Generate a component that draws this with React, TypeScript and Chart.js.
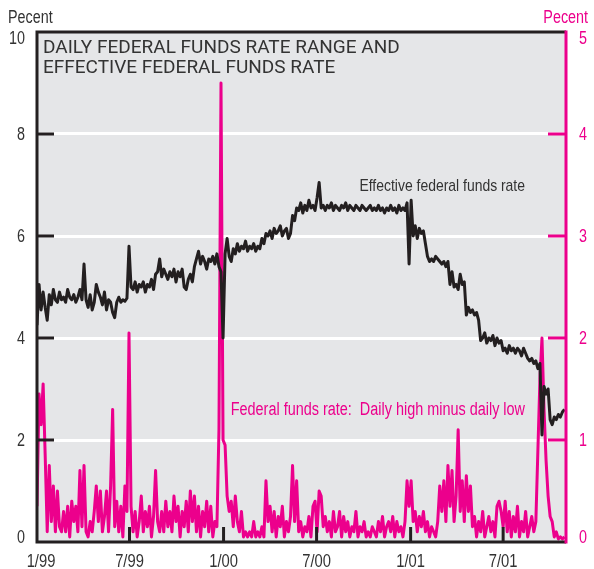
import React, { useEffect, useRef } from 'react';
import Chart from 'chart.js/auto';

// ---- x axis (days since 1 Jan 1999) ----
const STEP_DAYS = 4;
const X_MAX_DAYS = 1035;
const tickDays = [0, 181, 365, 547, 731, 912];
const tickLabels = ['1/99', '7/99', '1/00', '7/00', '1/01', '7/01'];
const leftTicks = [0, 2, 4, 6, 8, 10];
const rightTicks = [0, 1, 2, 3, 4, 5];

// ---- Effective federal funds rate (left axis, percent), every 4 days ----
const eff1999H1 = [
  4.25, 5.05, 4.55, 4.9, 4.6, 4.35, 4.85, 4.65, 4.95, 4.75,
  4.7, 4.9, 4.75, 4.8, 4.7, 4.95, 4.8, 4.75, 4.85, 4.7,
  4.8, 4.95, 4.75, 5.45, 4.75, 4.6, 4.85, 4.55, 4.7, 5.05,
  4.9, 4.8, 4.65, 4.9, 4.55, 4.75, 4.7, 4.5, 4.4, 4.7,
  4.8, 4.7, 4.75, 4.72, 4.78, 5.8,
];
const eff1999H2 = [
  5.0, 4.95, 5.1, 4.9, 5.05, 5.0, 5.1, 4.9, 5.05, 5.0,
  5.15, 4.95, 5.25, 5.3, 5.55, 5.2, 5.35, 5.25, 5.15, 5.3,
  5.2, 5.35, 5.1, 5.3, 5.2, 5.35, 5.0, 4.95, 5.15, 5.25,
  5.1, 5.4, 5.55, 5.7, 5.45, 5.6, 5.5, 5.35, 5.55, 5.5,
  5.6, 5.45, 5.65, 5.4, 5.3, 4.0,
];
const eff2000H1 = [
  5.65, 5.95, 5.6, 5.5, 5.75, 5.65, 5.85, 5.7, 5.8, 5.75,
  5.9, 5.7, 5.8, 5.75, 5.85, 5.7, 5.8, 5.75, 5.95, 5.85,
  6.05, 6.0, 6.1, 5.95, 6.15, 6.05, 6.1, 6.2, 6.0, 6.1,
  6.15, 5.95, 6.05, 6.4, 6.3, 6.55, 6.5, 6.65, 6.45, 6.6,
  6.5, 6.7, 6.55, 6.6, 6.5,
];
const eff2000H2 = [
  6.75, 7.05, 6.55, 6.6, 6.5, 6.6, 6.55, 6.65, 6.5, 6.6,
  6.55, 6.5, 6.6, 6.55, 6.65, 6.5, 6.6, 6.55, 6.5, 6.6,
  6.55, 6.5, 6.6, 6.55, 6.5, 6.55, 6.6, 6.5, 6.55, 6.5,
  6.6, 6.5, 6.55, 6.45, 6.55, 6.5, 6.6, 6.5, 6.55, 6.45,
  6.6, 6.5, 6.55, 6.5, 6.65, 5.45,
];
const eff2001H1 = [
  6.7, 6.0, 6.2, 5.95, 6.15, 6.05, 6.1, 5.85, 5.6, 5.5,
  5.55, 5.5, 5.6, 5.55, 5.5, 5.45, 5.5, 5.4, 5.5, 5.05,
  5.3, 5.0, 5.05, 4.95, 5.25, 5.05, 5.1, 4.45, 4.6, 4.5,
  4.55, 4.45, 4.5, 4.35, 3.95, 4.0, 4.1, 3.9, 4.0, 3.95,
  4.05, 3.85, 4.0, 3.9, 3.95,
];
const eff2001H2 = [
  3.75, 3.8, 3.7, 3.85, 3.75, 3.8, 3.7, 3.8, 3.75, 3.65,
  3.8, 3.7, 3.6, 3.55, 3.6, 3.5, 3.55, 3.4, 3.5, 2.1,
  3.05, 2.9, 3.0, 2.4, 2.3, 2.45, 2.4, 2.5, 2.45, 2.55,
  2.6,
];

// ---- Daily high minus daily low (right axis, percent) ----
const rng1999H1 = [
  0.35, 1.45, 1.15, 1.55, 0.85, 0.1, 0.75, 0.2, 0.55, 0.1,
  0.5, 0.15, 0.1, 0.3, 0.1, 0.35, 0.05, 0.4, 0.2, 0.35,
  0.1, 0.7, 0.15, 0.75, 0.1, 0.05, 0.2, 0.1, 0.3, 0.55,
  0.2, 0.5, 0.1, 0.25, 0.5, 0.1, 0.55, 1.3, 0.15, 0.4,
  0.1, 0.35, 0.05, 0.55, 0.3, 2.05,
];
const rng1999H2 = [
  0.35, 0.1, 0.3, 0.05, 0.2, 0.45, 0.1, 0.3, 0.15, 0.35,
  0.05, 0.25, 0.7, 0.2, 0.1, 0.3, 0.1, 0.4, 0.15, 0.3,
  0.1, 0.45, 0.2, 0.35, 0.05, 0.3, 0.15, 0.4, 0.1, 0.5,
  0.2, 0.45, 0.1, 0.35, 0.05, 0.3, 0.15, 0.4, 0.1, 0.35,
  0.05, 0.2, 0.15, 1.1, 4.5, 1.0,
];
const rng2000H1 = [
  0.95, 0.45, 0.3, 0.4, 0.15, 0.45, 0.2, 0.1, 0.3, 0.05,
  0.1, 0.05, 0.1, 0.05, 0.2, 0.05, 0.1, 0.05, 0.15, 0.05,
  0.6, 0.2, 0.35, 0.1, 0.3, 0.05, 0.25, 0.15, 0.35, 0.05,
  0.2, 0.1, 0.25, 0.75, 0.2, 0.6, 0.1, 0.2, 0.05, 0.15,
  0.1, 0.25, 0.05, 0.35, 0.4,
];
const rng2000H2 = [
  0.1, 0.5, 0.45, 0.15, 0.25, 0.1, 0.2, 0.05, 0.3, 0.1,
  0.15, 0.3, 0.05, 0.25, 0.1, 0.2, 0.05, 0.15, 0.1, 0.3,
  0.05, 0.15, 0.1, 0.2, 0.05, 0.1, 0.05, 0.15, 0.1, 0.05,
  0.2, 0.1, 0.25, 0.05, 0.15, 0.2, 0.1, 0.25, 0.05, 0.2,
  0.1, 0.15, 0.05, 0.2, 0.6, 0.35,
];
const rng2001H1 = [
  0.6, 0.2, 0.3, 0.1, 0.25, 0.15, 0.3, 0.1, 0.2, 0.05,
  0.15, 0.1, 0.05, 0.2, 0.55, 0.3, 0.6, 0.2, 0.75, 0.35,
  0.7, 0.2, 0.45, 1.1, 0.3, 0.6, 0.2, 0.65, 0.3, 0.55,
  0.15, 0.25, 0.05, 0.2, 0.1, 0.3, 0.05, 0.15, 0.25, 0.1,
  0.2, 0.05, 0.35, 0.4, 0.3,
];
const rng2001H2 = [
  0.15, 0.4, 0.1, 0.3, 0.05, 0.25, 0.1, 0.35, 0.05, 0.2,
  0.1, 0.3, 0.05, 0.15, 0.25, 0.1, 0.2, 0.9, 1.6, 2.0,
  1.3, 0.8, 0.45, 0.25, 0.2, 0.05, 0.1, 0.03, 0.05, 0.03,
  0.05,
];

const TITLE_1 = 'DAILY FEDERAL FUNDS RATE RANGE AND';
const TITLE_2 = 'EFFECTIVE FEDERAL FUNDS RATE';
const EFF_LABEL = 'Effective federal funds rate';
const RNG_LABEL = 'Federal funds rate:  Daily high minus daily low';
const AXIS_TITLE = 'Pecent';

const PINK = '#ec008c';
const DARK = '#231f20';
const TEXT = '#333333';
const PLOT_BG = '#e5e6e8';
const NARROW_FAMILY = "'Liberation Sans', Arial, sans-serif";
const NARROW_SCALE = 0.82;
const TITLE_FONT = "19px Roboto, 'Liberation Sans', sans-serif";

const toPoints = (vals: number[]) => vals.map((v, i) => ({ x: i * STEP_DAYS, y: v }));

function narrowText(ctx: CanvasRenderingContext2D, text: string, x: number, y: number, align: CanvasTextAlign, color: string, size = 17.5) {
  ctx.save();
  ctx.font = `${size}px ${NARROW_FAMILY}`;
  ctx.fillStyle = color;
  ctx.textAlign = align;
  ctx.textBaseline = 'alphabetic';
  ctx.translate(x, y);
  ctx.scale(NARROW_SCALE, 1);
  ctx.fillText(text, 0, 0);
  ctx.restore();
}

const decorPlugin = {
  id: 'decor',
  beforeDraw(chart: any) {
    const { ctx, chartArea } = chart;
    const { left, top, right, bottom } = chartArea;
    ctx.save();
    ctx.fillStyle = PLOT_BG;
    ctx.fillRect(left, top, right - left, bottom - top);
    ctx.restore();
  },
  afterDatasetsDraw(chart: any) {
    const { ctx, chartArea } = chart;
    const { left, top, right, bottom } = chartArea;
    const ys = chart.scales.y;
    const yr = chart.scales.y2;
    const xs = chart.scales.x;
    ctx.save();
    ctx.lineCap = 'butt';
    // inside tick marks
    ctx.lineWidth = 3;
    ctx.strokeStyle = DARK;
    ys.ticks.forEach((t: any) => {
      if (t.value === ys.min || t.value === ys.max) return;
      const y = ys.getPixelForValue(t.value);
      ctx.beginPath();
      ctx.moveTo(left, y);
      ctx.lineTo(left + 17, y);
      ctx.stroke();
    });
    xs.ticks.forEach((t: any) => {
      if (t.value === xs.min) return;
      const x = xs.getPixelForValue(t.value);
      ctx.beginPath();
      ctx.moveTo(x, bottom);
      ctx.lineTo(x, bottom - 15);
      ctx.stroke();
    });
    ctx.strokeStyle = PINK;
    yr.ticks.forEach((t: any) => {
      if (t.value === yr.min || t.value === yr.max) return;
      const y = yr.getPixelForValue(t.value);
      ctx.beginPath();
      ctx.moveTo(right - 18, y);
      ctx.lineTo(right, y);
      ctx.stroke();
    });
    // frame
    ctx.strokeStyle = DARK;
    ctx.lineWidth = 3;
    ctx.beginPath();
    ctx.moveTo(right, top);
    ctx.lineTo(left, top);
    ctx.lineTo(left, bottom);
    ctx.lineTo(right, bottom);
    ctx.stroke();
    ctx.strokeStyle = PINK;
    ctx.beginPath();
    ctx.moveTo(right, top - 1.5);
    ctx.lineTo(right, bottom + 1.5);
    ctx.stroke();

    // title inside plot
    ctx.fillStyle = TEXT;
    ctx.textAlign = 'left';
    ctx.textBaseline = 'alphabetic';
    ctx.font = TITLE_FONT;
    ctx.fillText(TITLE_1, left + 6, top + 21);
    ctx.fillText(TITLE_2, left + 6, top + 41);
    // series labels
    narrowText(ctx, EFF_LABEL, right - 41, top + 159, 'right', TEXT, 17);
    narrowText(ctx, RNG_LABEL, right - 41, top + 383, 'right', PINK, 17.6);
    ctx.restore();
  },
  afterDraw(chart: any) {
    const { ctx, chartArea } = chart;
    const { left, top, right, bottom } = chartArea;
    const ys = chart.scales.y;
    const yr = chart.scales.y2;
    const xs = chart.scales.x;
    const clampBase = (y: number) => Math.min(bottom + 1, Math.max(top + 12, y + 6));
    ys.ticks.forEach((t: any) => {
      narrowText(ctx, String(t.value), left - 12, clampBase(ys.getPixelForValue(t.value)), 'right', TEXT);
    });
    yr.ticks.forEach((t: any) => {
      narrowText(ctx, String(t.value), right + 13, clampBase(yr.getPixelForValue(t.value)), 'left', PINK);
    });
    xs.ticks.forEach((t: any) => {
      const k = tickDays.indexOf(t.value);
      if (k < 0) return;
      const x = Math.max(left + 4, xs.getPixelForValue(t.value));
      narrowText(ctx, tickLabels[k], x, bottom + 25, 'center', TEXT, 18);
    });
    narrowText(ctx, AXIS_TITLE, 8, 23, 'left', TEXT);
    narrowText(ctx, AXIS_TITLE, 588, 23, 'right', PINK);
  },
};

export default function App() {
  const ref = useRef<HTMLCanvasElement>(null);
  useEffect(() => {
    const eff = [...eff1999H1, ...eff1999H2, ...eff2000H1, ...eff2000H2, ...eff2001H1, ...eff2001H2];
    const rng = [...rng1999H1, ...rng1999H2, ...rng2000H1, ...rng2000H2, ...rng2001H1, ...rng2001H2];
    const chart = new Chart(ref.current as HTMLCanvasElement, {
      type: 'line',
      data: {
        datasets: [
          {
            label: EFF_LABEL,
            data: toPoints(eff),
            yAxisID: 'y',
            borderColor: DARK,
            borderWidth: 3,
            pointRadius: 0,
            tension: 0,
            borderJoinStyle: 'round',
            fill: false,
          },
          {
            label: RNG_LABEL,
            data: toPoints(rng),
            yAxisID: 'y2',
            borderColor: PINK,
            borderWidth: 3,
            pointRadius: 0,
            tension: 0,
            borderJoinStyle: 'round',
            fill: false,
          },
        ],
      },
      options: {
        responsive: false,
        animation: false,
        layout: { padding: { top: 32, left: 0, right: 0, bottom: 0 } },
        plugins: { legend: { display: false }, tooltip: { enabled: false }, title: { display: false } },
        scales: {
          x: {
            type: 'linear',
            min: 0,
            max: X_MAX_DAYS,
            grid: { display: false, drawTicks: false },
            border: { display: false },
            afterBuildTicks: (scale: any) => {
              scale.ticks = tickDays.map((v) => ({ value: v }));
            },
            afterFit: (scale: any) => {
              scale.height = 27;
            },
            ticks: { display: false, autoSkip: false, maxRotation: 0 },
          },
          y: {
            position: 'left',
            min: 0,
            max: 10,
            afterBuildTicks: (scale: any) => {
              scale.ticks = leftTicks.map((v) => ({ value: v }));
            },
            afterFit: (scale: any) => {
              scale.width = 37;
            },
            grid: {
              drawTicks: false,
              lineWidth: 3,
              color: (c: any) => (c.tick && (c.tick.value === 0 || c.tick.value === 10) ? 'rgba(0,0,0,0)' : '#ffffff'),
            },
            border: { display: false },
            ticks: { display: false },
          },
          y2: {
            position: 'right',
            min: 0,
            max: 5,
            afterBuildTicks: (scale: any) => {
              scale.ticks = rightTicks.map((v) => ({ value: v }));
            },
            afterFit: (scale: any) => {
              scale.width = 28;
            },
            grid: { display: false, drawTicks: false },
            border: { display: false },
            ticks: { display: false },
          },
        },
      },
      plugins: [decorPlugin],
    } as any);
    return () => chart.destroy();
  }, []);
  return (
    <div style={{ position: 'absolute', left: 0, top: 0, width: 594, height: 569, background: '#ffffff' }}>
      <canvas ref={ref} width={594} height={569} style={{ display: 'block', width: 594, height: 569 }} />
    </div>
  );
}
